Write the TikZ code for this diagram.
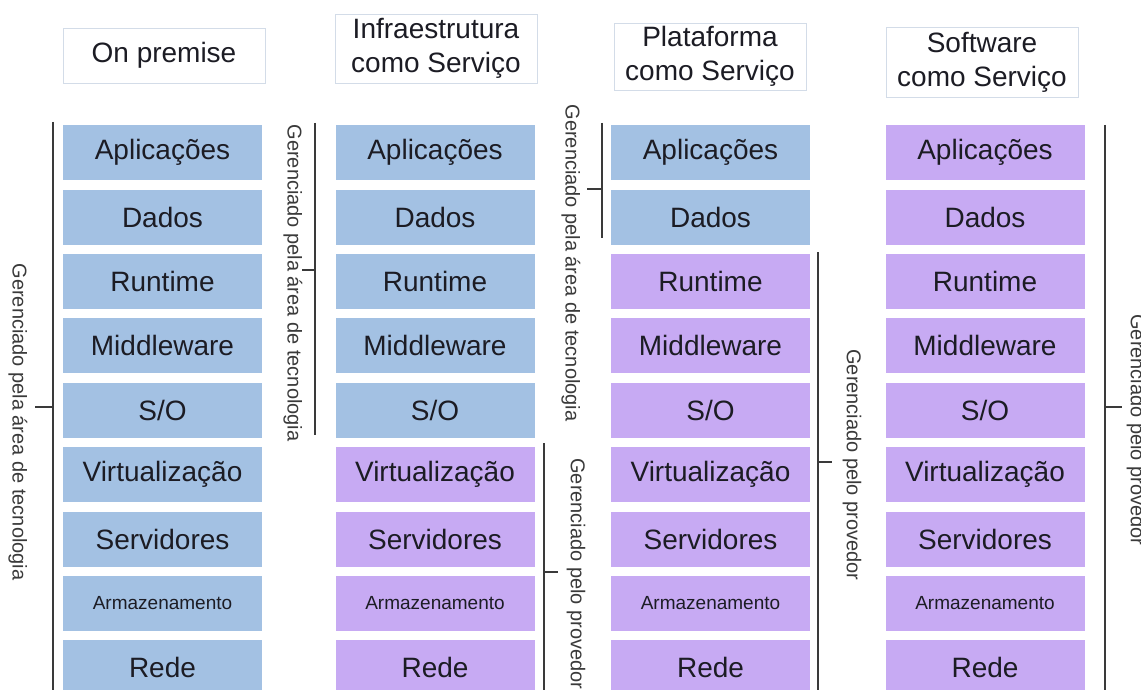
\documentclass[tikz,border=0pt]{standalone}
\usepackage{fontspec}
\setmainfont{Liberation Sans}
\definecolor{bluebox}{HTML}{A3C1E3}
\definecolor{purplebox}{HTML}{C7AAF3}
\definecolor{ink}{HTML}{1C1C24}
\definecolor{framegray}{HTML}{D3DCE8}
\definecolor{rulegray}{HTML}{3A3A3A}
\newcommand\armfont{\fontsize{19}{21}\selectfont}

\begin{document}
\begin{tikzpicture}[x=1pt,y=-1pt,
  layer/.style={minimum width=199pt, minimum height=55pt, inner sep=0pt,
    anchor=north, text=ink, font=\fontsize{28}{30}\selectfont},
  header/.style={draw=framegray, line width=0.8pt, fill=white, inner sep=0pt,
    align=center, text=ink, font=\fontsize{28}{34}\selectfont},
  bracket/.style={draw=rulegray, line width=1.3pt},
  sidelabel/.style={rotate=-90, text=rulegray, inner sep=0pt,
    font=\fontsize{20}{22}\selectfont}
]
\useasboundingbox (0,0) rectangle (1141,690);
\clip (0,0) rectangle (1141,690);
\fill[white] (0,0) rectangle (1141,690);

% column headers
\node[header, minimum width=202pt, minimum height=55pt] (h1) at (164,55.5) {On premise};
\node[header, minimum width=202pt, minimum height=69pt] (h2) at (436,48.5) {Infraestrutura\\como Serviço};
\node[header, minimum width=192pt, minimum height=67pt] (h3) at (710,56.5) {Plataforma\\como Serviço};
\node[header, minimum width=192pt, minimum height=70pt] (h4) at (982,62) {Software\\como Serviço};

% stacks of layers: the first \nb layers of each column are blue, the rest purple
\foreach \c/\cx/\nb in {1/162.5/9, 2/435/5, 3/710.5/2, 4/985/0} {
  \foreach \t [count=\r from 0] in {Aplicações, Dados, Runtime, Middleware, S/O,
      Virtualização, Servidores, {\armfont Armazenamento}, Rede} {
    \pgfmathsetmacro\yy{125+64.4*\r}
    \ifnum\r<\nb \def\fc{bluebox}\else\def\fc{purplebox}\fi
    \node[layer, fill=\fc] (c\c r\r) at (\cx,\yy) {\t};
  }
}

% brackets
\draw[bracket] (53,122) -- (53,690);   \draw[bracket] (53,407) -- (35,407);
\draw[bracket] (315,123) -- (315,435); \draw[bracket] (315,270) -- (302,270);
\draw[bracket] (544,443) -- (544,690); \draw[bracket] (544,572) -- (558,572);
\draw[bracket] (602,123) -- (602,238); \draw[bracket] (602,189) -- (587,189);
\draw[bracket] (818,252) -- (818,690); \draw[bracket] (818,462) -- (832,462);
\draw[bracket] (1105,125) -- (1105,690); \draw[bracket] (1105,407) -- (1122,407);

% bracket labels
\node[sidelabel] (l1) at (18,422) {Gerenciado pela área de tecnologia};
\node[sidelabel] (l2) at (293,283) {Gerenciado pela área de tecnologia};
\node[sidelabel] (l3) at (576,574) {Gerenciado pelo provedor};
\node[sidelabel] (l4) at (571,263) {Gerenciado pela área de tecnologia};
\node[sidelabel] (l5) at (852,465) {Gerenciado pelo provedor};
\node[sidelabel] (l6) at (1136,430) {Gerenciado pelo provedor};
\end{tikzpicture}
\end{document}
